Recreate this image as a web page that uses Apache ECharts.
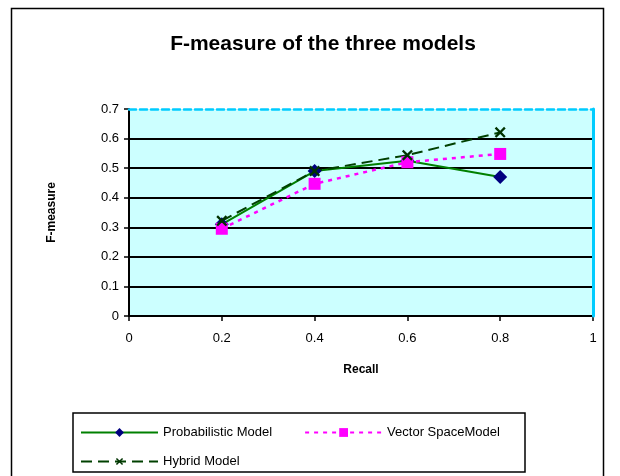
<!DOCTYPE html>
<html>
<head>
<meta charset="utf-8">
<title>F-measure of the three models</title>
<script src="https://cdn.jsdelivr.net/npm/echarts@6/dist/echarts.min.js"></script>
<style>
  html, body { margin: 0; padding: 0; background: #ffffff; }
  #chart { width: 620px; height: 476px; }
</style>
</head>
<body>
<div id="chart"></div>
<script>
// Recall levels and the F-measure reached by each retrieval model
var recall = [0.2, 0.4, 0.6, 0.8];
var probabilistic = [0.31, 0.49, 0.525, 0.47];
var vectorSpace = [0.295, 0.447, 0.52, 0.548];
var hybrid = [0.322, 0.49, 0.544, 0.621];

var seriesNames = ['Probabilistic Model', 'Vector SpaceModel', 'Hybrid Model'];

// Axis tick labels
var xTicks = ['0', '0.2', '0.4', '0.6', '0.8', '1'];
var yTicks = ['0', '0.1', '0.2', '0.3', '0.4', '0.5', '0.6', '0.7'];

function pairs(xs, ys) {
  return xs.map(function (x, i) { return [x, ys[i]]; });
}

// gridlines are black except the top one, where the dashed frame line shows
var gridColors = yTicks.map(function (t, i) {
  return i === yTicks.length - 1 ? 'rgba(0,0,0,0)' : '#000000';
});

var FONT = 'Arial, "Liberation Sans", sans-serif';
var crossSymbol = 'path://M0,1.5L1.5,0L5,3.5L8.5,0L10,1.5L6.5,5L10,8.5L8.5,10L5,6.5L1.5,10L0,8.5L3.5,5Z';

var chart = echarts.init(document.getElementById('chart'), null, { renderer: 'canvas' });

chart.setOption({
  animation: false,
  backgroundColor: '#ffffff',
  title: {
    text: 'F-measure of the three models',
    left: 318,
    textAlign: 'center',
    top: 29,
    textStyle: { fontFamily: FONT, fontSize: 21, fontWeight: 'bold', color: '#000000' }
  },
  grid: {
    left: 129, top: 109, right: 27, bottom: 160,
    show: true, backgroundColor: '#ccffff', borderWidth: 0
  },
  xAxis: [{
    type: 'value', min: 0, max: 1, interval: 0.2,
    name: 'Recall', nameLocation: 'middle', nameGap: 48,
    nameTextStyle: { fontFamily: FONT, fontSize: 12, fontWeight: 'bold', color: '#000000' },
    axisLine: { show: true, onZero: false, lineStyle: { color: '#000000', width: 2 } },
    axisTick: { show: true, inside: false, length: 5, lineStyle: { color: '#000000', width: 1.5 } },
    axisLabel: {
      margin: 16, fontFamily: FONT, fontSize: 13, color: '#000000',
      formatter: function (v) { return xTicks[Math.round(v / 0.2)]; }
    },
    splitLine: { show: false }
  }, {
    type: 'value', min: 0, max: 1, position: 'top', z: 5,
    axisLine: { show: true, onZero: false, lineStyle: { color: '#00ccff', width: 2.5, type: [7, 4] } },
    axisTick: { show: false }, axisLabel: { show: false }, splitLine: { show: false }
  }],
  yAxis: [{
    type: 'value', min: 0, max: 0.7, interval: 0.1,
    name: 'F-measure', nameLocation: 'middle', nameGap: 71, nameRotate: 90,
    nameTextStyle: { fontFamily: FONT, fontSize: 12, fontWeight: 'bold', color: '#000000' },
    axisLine: { show: true, onZero: false, lineStyle: { color: '#000000', width: 2 } },
    axisTick: { show: true, inside: false, length: 5, lineStyle: { color: '#000000', width: 1.5 } },
    axisLabel: {
      margin: 10, fontFamily: FONT, fontSize: 13, color: '#000000',
      formatter: function (v) { return yTicks[Math.round(v / 0.1)]; }
    },
    splitLine: { show: true, lineStyle: { color: gridColors, width: 2 } }
  }, {
    type: 'value', min: 0, max: 0.7, position: 'right', z: 5,
    axisLine: { show: true, onZero: false, lineStyle: { color: '#00ccff', width: 3 } },
    axisTick: { show: false }, axisLabel: { show: false }, splitLine: { show: false }
  }],
  legend: [{
    left: 75, top: 421, itemWidth: 77, itemHeight: 11, itemGap: 32,
    textStyle: { fontFamily: FONT, fontSize: 13, color: '#000000' },
    data: [seriesNames[0], seriesNames[1]]
  }, {
    left: 75, top: 450, itemWidth: 77, itemHeight: 9,
    textStyle: { fontFamily: FONT, fontSize: 13, color: '#000000' },
    data: [seriesNames[2]]
  }],
  graphic: [{
    type: 'rect', silent: true,
    shape: { x: 11.5, y: 8.5, width: 592, height: 480 },
    style: { fill: 'none', stroke: '#000000', lineWidth: 1.5 }
  }, {
    type: 'rect', silent: true,
    shape: { x: 73, y: 413, width: 452, height: 59 },
    style: { fill: 'none', stroke: '#000000', lineWidth: 1.5 }
  }],
  series: [{
    name: seriesNames[0], type: 'line', data: pairs(recall, probabilistic),
    symbol: 'diamond', symbolSize: 14,
    itemStyle: { color: '#000080' },
    lineStyle: { color: '#008000', width: 2 }
  }, {
    name: seriesNames[1], type: 'line', data: pairs(recall, vectorSpace),
    symbol: 'rect', symbolSize: 12,
    itemStyle: { color: '#ff00ff' },
    lineStyle: { color: '#ff00ff', width: 2.5, type: [4, 5] }
  }, {
    name: seriesNames[2], type: 'line', data: pairs(recall, hybrid),
    symbol: crossSymbol, symbolSize: 11,
    itemStyle: { color: '#003300' },
    lineStyle: { color: '#004000', width: 2, type: [11, 6] }
  }]
});
</script>
</body>
</html>
